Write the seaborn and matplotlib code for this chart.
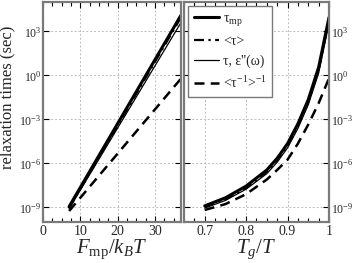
import numpy as np
import pandas as pd
import matplotlib
matplotlib.use("Agg")
import matplotlib.pyplot as plt
import seaborn as sns
from matplotlib.ticker import FixedLocator, MultipleLocator, NullLocator, LogFormatterSciNotation

# ---------------- data ----------------
# left panel: F_mp / k_B T
F_left = [7.0, 37.0]
tau_mp_left = [1.12e-9, 1.26e4]
tau_avg_left = [8.9e-10, 8.9e3]
tau_eps_left = [7.9e-10, 4.0e3]
tau_inv_left = [5.6e-10, 0.6]

# right panel: T_g / T (log10 of relaxation time)
TgT = [0.70, 0.75, 0.80, 0.85, 0.875, 0.90, 0.925, 0.95, 0.975, 1.00]
log_tau_mp = [-8.90, -8.35, -7.55, -6.45, -5.65, -4.65, -3.30, -1.65, 0.55, 3.95]
log_tau_avg = [-8.98, -8.45, -7.66, -6.57, -5.78, -4.79, -3.45, -1.82, 0.36, 3.78]
log_tau_eps = [-9.05, -8.53, -7.76, -6.70, -5.92, -4.94, -3.62, -2.00, 0.15, 3.55]
log_tau_inv = [-9.18, -8.78, -8.10, -7.10, -6.45, -5.75, -4.65, -3.35, -1.90, -0.20]

labels = [r"τ$_{\rm mp}$", "<τ>", "τ, ε''(ω)", r"<τ$^{-1}$>$^{-1}$"]
yticks = [1e-9, 1e-6, 1e-3, 1e0, 1e3]

# ---------------- style ----------------
sns.set_style("ticks")
plt.rcParams["font.family"] = ["Liberation Serif", "DejaVu Serif"]
plt.rcParams["mathtext.fontset"] = "custom"
plt.rcParams["mathtext.rm"] = "Liberation Serif"
plt.rcParams["mathtext.it"] = "Liberation Serif:italic"
plt.rcParams["mathtext.bf"] = "Liberation Serif:bold"

styles = [
    dict(linestyle="-", linewidth=2.2),
    dict(linestyle=(0, (4.5, 2, 1, 2)), linewidth=1.6),
    dict(linestyle="-", linewidth=0.9),
    dict(linestyle=(0, (4, 2.5)), linewidth=1.8),
]

fig = plt.figure(figsize=(3.53, 2.63), dpi=100)
axL = fig.add_axes([43 / 353, 1 - 222 / 263, 138 / 353, 220 / 263])
axR = fig.add_axes([184 / 353, 1 - 222 / 263, 145 / 353, 220 / 263])

left_series = [tau_mp_left, tau_avg_left, tau_eps_left, tau_inv_left]
right_series = [log_tau_mp, log_tau_avg, log_tau_eps, log_tau_inv]

for ys, st, lab in zip(left_series, styles, labels):
    df = pd.DataFrame({"x": F_left, "y": ys})
    sns.lineplot(data=df, x="x", y="y", ax=axL, color="black", label=lab, legend=False, **st)

for ys, st, lab in zip(right_series, styles, labels):
    df = pd.DataFrame({"x": TgT, "y": 10.0 ** np.array(ys)})
    sns.lineplot(data=df, x="x", y="y", ax=axR, color="black", label=lab, legend=False, **st)

for ax in (axL, axR):
    ax.set_yscale("log")
    ax.set_ylim(1e-10, 1e5)
    ax.yaxis.set_major_locator(FixedLocator(yticks))
    ax.yaxis.set_minor_locator(NullLocator())
    ax.yaxis.set_major_formatter(LogFormatterSciNotation())
    ax.grid(True, which="major", color="#bdbdbd", linestyle=(0, (2, 2)), linewidth=0.7)
    for sp in ax.spines.values():
        sp.set_color("#7a7a7a")
        sp.set_linewidth(1.6)
    ax.tick_params(which="both", direction="in", top=True, bottom=True, left=True, right=True,
                   color="black", pad=2)
    ax.tick_params(axis="x", labelsize=10)
    ax.tick_params(axis="y", labelsize=8.5, pad=1.2)
    ax.tick_params(which="major", length=4, width=0.8)
    ax.tick_params(which="minor", length=3, width=0.8)
    ax.set_xlabel("")
    ax.set_ylabel("")

axL.set_xlim(0, 37)
axL.xaxis.set_major_locator(MultipleLocator(10))
axL.xaxis.set_minor_locator(MultipleLocator(2.5))
axL.tick_params(labelleft=True, labelright=False)
axL.set_ylabel("relaxation times (sec)", fontsize=12)
axL.yaxis.set_label_coords(-0.2, 0.565)
axL.set_xlabel(r"$F_{\rm mp}/k_B T$", fontsize=15, labelpad=0)

axR.set_xlim(0.65, 1.0)
axR.xaxis.set_major_locator(FixedLocator([0.7, 0.8, 0.9, 1.0]))
axR.xaxis.set_minor_locator(MultipleLocator(0.025))
axR.set_xticklabels(["0.7", "0.8", "0.9", "1"])
axR.tick_params(labelleft=False, labelright=True)
axR.set_xlabel(r"$T_g/T$", fontsize=15, labelpad=0)

h, l = axR.get_legend_handles_labels()
leg = axR.legend(h, l, loc="upper left", bbox_to_anchor=(0.0, 1.0), fontsize=10,
                 frameon=True, fancybox=False, framealpha=1, edgecolor="#7a7a7a",
                 handlelength=1.85, handletextpad=0.25, labelspacing=0.5,
                 borderpad=0.4, borderaxespad=0.3)
leg.get_frame().set_linewidth(1.0)

fig.savefig("out.png", dpi=100)
